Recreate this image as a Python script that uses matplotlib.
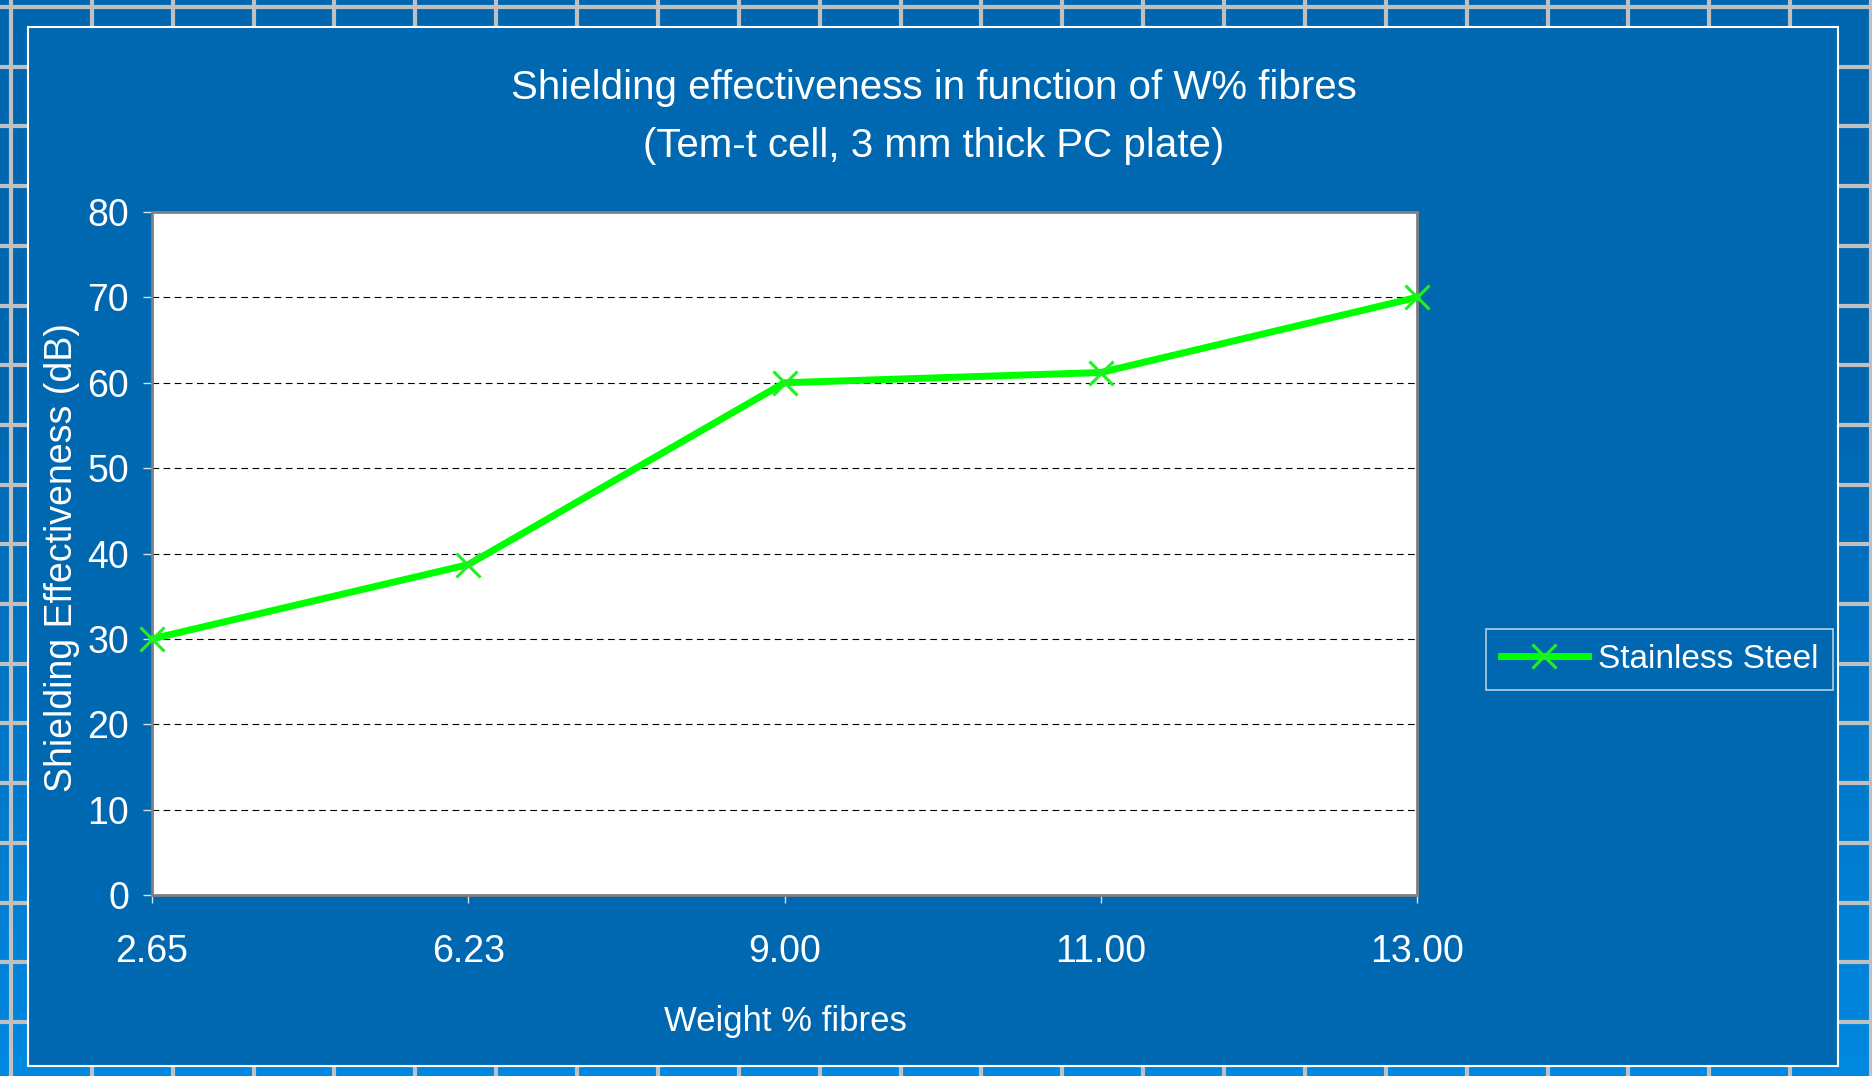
import matplotlib.pyplot as plt
import numpy as np
from matplotlib.patches import Rectangle

plt.rcParams['font.family'] = ['Liberation Sans', 'DejaVu Sans']

# data
fibre_wt = ['2.65', '6.23', '9.00', '11.00', '13.00']
se_db = [30.0, 38.7, 60.0, 61.2, 70.0]
y_ticks = [0, 10, 20, 30, 40, 50, 60, 70, 80]

W, H = 1872, 1076
fig = plt.figure(figsize=(W/100, H/100), dpi=100)

# slide background: blue gradient with grey grid
bg = fig.add_axes([0, 0, 1, 1])
bg.set_xlim(0, W)
bg.set_ylim(H, 0)
bg.axis('off')
grad = np.linspace(0, 1, 256)[:, None]
grad = np.clip((grad - 0.35) / 0.65, 0, 1)
c0 = np.array([0x00, 0x66, 0xB0]) / 255
c1 = np.array([0x00, 0x88, 0xE0]) / 255
img = c0 + grad[..., None] * (c1 - c0)
img = np.repeat(img, 2, axis=1)
bg.imshow(img, extent=[0, W, H, 0], aspect='auto', zorder=0)
for k in range(24):
    bg.axvline(11 + 80.87*k, color='#C0C0C0', lw=3, zorder=1)
for k in range(19):
    bg.axhline(7 + 59.7*k, color='#C0C0C0', lw=3, zorder=1)
bg.add_patch(Rectangle((28, 27), 1810, 1039, facecolor='#0068B0',
                       edgecolor='white', lw=1.5, zorder=2))

# chart
ax = fig.add_axes([152/W, 1 - 895/H, 1265/W, 683/H])
ax.set_facecolor('white')
xs = np.arange(len(fibre_wt))
ax.plot(xs, se_db, color='#00FF00', lw=5, marker='x', ms=17, mew=2.2,
        mec='#22EE22', label='Stainless Steel', clip_on=False, zorder=3)
ax.set_xlim(0, len(fibre_wt) - 1)
ax.set_ylim(0, 80)
ax.set_xticks(xs)
ax.set_xticklabels(fibre_wt)
ax.set_yticks(y_ticks)
ax.yaxis.grid(True, color='black', ls=(0, (6, 4)), lw=0.8)
ax.set_axisbelow(True)
for s in ax.spines.values():
    s.set_color('#808080')
    s.set_linewidth(2)
ax.tick_params(axis='x', colors='white', labelsize=27, length=6, width=1,
               pad=22, color='#D8E0EC')
ax.tick_params(axis='y', colors='white', labelsize=27, length=6.5, width=1,
               pad=10, color='#D8E0EC')

fig.text(934/W, 1 - 117/H,
         'Shielding effectiveness in function of W% fibres\n(Tem-t cell, 3 mm thick PC plate)',
         ha='center', va='center', color='white', fontsize=29, linespacing=1.65)
fig.text(785/W, 1 - 1021/H, 'Weight % fibres', ha='center', va='center',
         color='white', fontsize=25)
fig.text(62/W, 1 - 557/H, 'Shielding Effectiveness (dB)', ha='center',
         va='center', rotation=90, color='white', fontsize=27)

leg = fig.legend(loc='center', bbox_to_anchor=(1659.5/W, 1 - 659/H),
                 fontsize=24, frameon=True, fancybox=False, handlelength=2.6,
                 handletextpad=0.3, borderpad=0.45, labelcolor='white')
leg.get_frame().set_facecolor('#0068B0')
leg.get_frame().set_edgecolor('#E0E8F0')
leg.get_frame().set_linewidth(1.2)

fig.savefig('out.png', dpi=100)
